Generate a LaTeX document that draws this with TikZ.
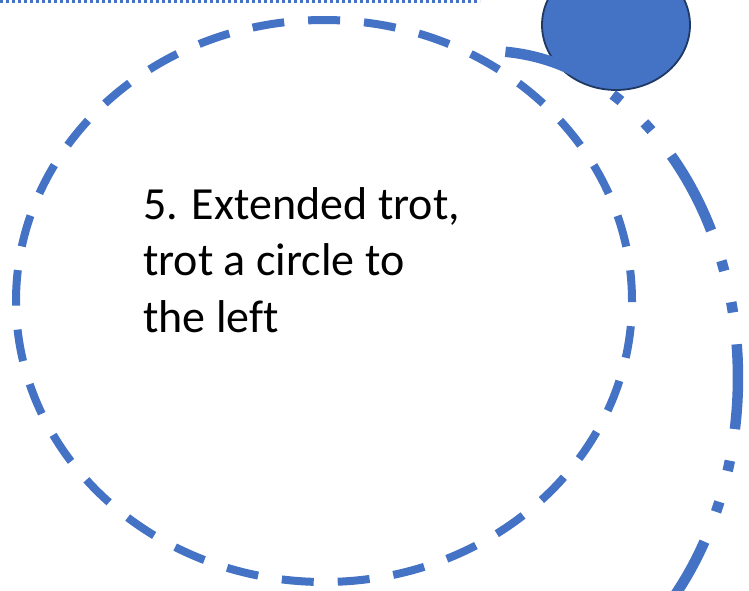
\documentclass[tikz,border=0pt]{standalone}
\usepackage{fontspec}
\setmainfont{Carlito}[Ligatures={NoCommon}]
\definecolor{accent}{HTML}{4472C4}
\definecolor{outline}{HTML}{1F3864}
\begin{document}
\begin{tikzpicture}[x=1pt,y=-1pt,
  every node/.style={font=\fontsize{46}{56.8}\selectfont},
  ringline/.style={accent,line width=8pt,dash pattern=on 32pt off 24pt,dash phase=1pt},
  trackline/.style={accent,line width=10.5pt,dash pattern=on 85pt off 32pt on 10.5pt off 32pt on 10.5pt off 32pt}]
\useasboundingbox (0,0) rectangle (749,590);
% dotted rule along the top
\draw[accent,line width=3pt,dash pattern=on 3pt off 3pt] (0,1) -- (480,1);
% the trot circle
\draw[ringline] (16,301) arc[start angle=180,end angle=540,x radius=308,y radius=281];
% rider marker
\filldraw[fill=accent,draw=outline,line width=1.8pt] (616,25) ellipse[x radius=74,y radius=65];
% outer track
\draw[trackline] (505.4,51.8) arc[start angle=-86,end angle=45,x radius=250,y radius=327];
\node[anchor=north west,align=left,inner sep=0pt] (label) at (143,187) {5. Extended trot,\\trot a circle to\\the left};
\end{tikzpicture}
\end{document}
